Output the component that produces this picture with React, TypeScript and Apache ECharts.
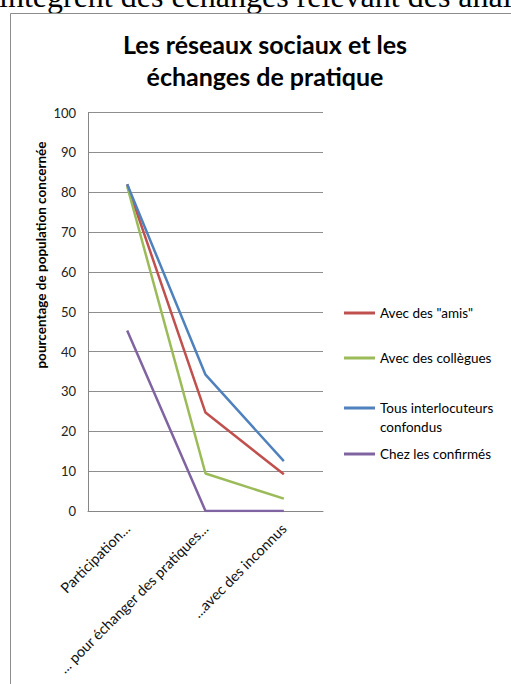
import React, { useEffect, useRef } from "react";
import * as echarts from "echarts";

const categories = ["Participation...", "... pour échanger des pratiques...", "...avec des inconnus"];
const seriesNames = ["Avec des \"amis\"", "Avec des collègues", "Tous interlocuteurs confondus", "Chez les confirmés"];
const amis = [82, 24.7, 9.2];
const collegues = [81.5, 9.4, 3.1];
const tous = [82, 34.2, 12.5];
const confirmes = [45.3, 0, 0];
const colors = ["#C0504D", "#9BBB59", "#4F81BD", "#8064A2"];
const titleText = "Les réseaux sociaux et les\néchanges de pratique";
const yAxisTitle = "pourcentage de population concernée";
const headerText = "intègrent des échanges relevant des anal";

export default function App() {
  const ref = useRef<HTMLDivElement>(null);
  useEffect(() => {
    if (!ref.current) return;
    const chart = echarts.init(ref.current, null, { renderer: "svg" });
    const values = [amis, collegues, tous, confirmes];
    const legendCenters = [313, 358, 408, 454];
    const font = "Lato, 'Noto Sans', sans-serif";
    chart.setOption({
      animation: false,
      backgroundColor: "#ffffff",
      grid: { left: 88, right: 188, top: 112.5, bottom: 173, containLabel: false },
      xAxis: {
        type: "category",
        data: categories,
        boundaryGap: true,
        axisLine: { lineStyle: { color: "#868686", width: 1 } },
        axisTick: { show: false },
        axisLabel: { rotate: 45, margin: 15, fontSize: 14.5, color: "#111", fontFamily: font, interval: 0 },
        splitLine: { show: false },
      },
      yAxis: {
        type: "value",
        min: 0,
        max: 100,
        interval: 10,
        axisLine: { show: true, lineStyle: { color: "#868686", width: 1 } },
        axisTick: { show: false },
        axisLabel: { fontSize: 13, color: "#222", margin: 12, fontFamily: font },
        splitLine: { lineStyle: { color: "#8e8e8e", width: 1 } },
      },
      legend: seriesNames.map((n, i) => ({
        data: [n],
        orient: "vertical",
        left: 344,
        top: i === 2 ? legendCenters[i] - 28.5 : legendCenters[i] - 7.5,
        padding: 0,
        icon: "rect",
        itemWidth: 31,
        itemHeight: 3,
        selectedMode: false,
        formatter: i === 2 ? () => " \nTous interlocuteurs\nconfondus" : undefined,
        textStyle: {
          fontSize: 13.5,
          color: "#000",
          fontFamily: font,
          lineHeight: i === 2 ? 19 : 15,
        },
      })),
      series: seriesNames.map((n, i) => ({
        name: n,
        type: "line",
        data: values[i],
        symbol: "none",
        lineStyle: { width: 2.5, color: colors[i] },
        itemStyle: { color: colors[i] },
      })),
      graphic: [
        {
          type: "text",
          x: -1,
          y: -4.5,
          style: {
            text: headerText,
            font: "32px 'Liberation Serif', serif",
            fill: "#000",
            textAlign: "left",
            textVerticalAlign: "middle",
          },
        },
        {
          type: "rect",
          shape: { x: 10.5, y: 13.5, width: 700, height: 800 },
          style: { fill: "none", stroke: "#8c8c8c", lineWidth: 1 },
          silent: true,
        },
        {
          type: "text",
          x: 265,
          y: 60,
          style: {
            text: titleText,
            font: "bold 25px Lato, sans-serif",
            lineHeight: 32,
            fill: "#000",
            textAlign: "center",
            textVerticalAlign: "middle",
          },
        },
        {
          type: "text",
          x: 41,
          y: 255,
          rotation: Math.PI / 2,
          style: {
            text: yAxisTitle,
            font: "bold 13.5px Lato, sans-serif",
            fill: "#000",
            textAlign: "center",
            textVerticalAlign: "middle",
          },
        },
      ],
    });
    return () => chart.dispose();
  }, []);
  return (
    <div
      ref={ref}
      style={{ position: "fixed", left: 0, top: 0, width: 511, height: 684, background: "#fff" }}
    />
  );
}
